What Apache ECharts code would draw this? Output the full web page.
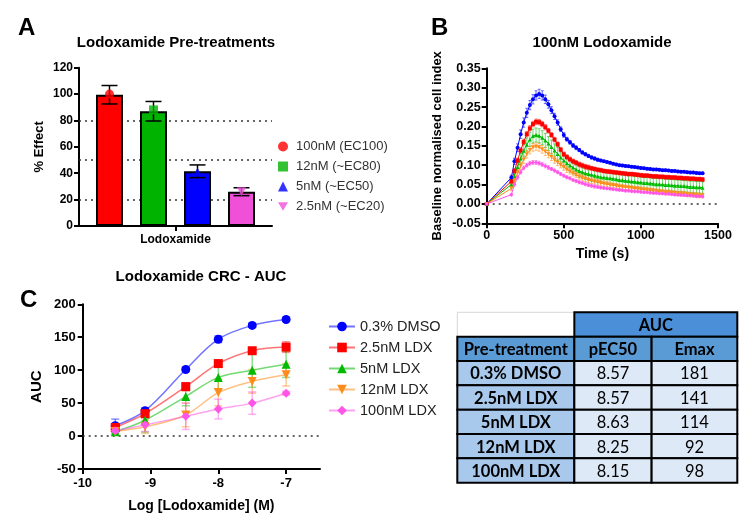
<!DOCTYPE html>
<html><head><meta charset="utf-8">
<script src="https://cdn.jsdelivr.net/npm/echarts@6/dist/echarts.min.js"></script>
<style>html,body{margin:0;padding:0;background:#fff}#c{width:739px;height:517px}</style>
</head><body><div id="c"></div>
<script>
const FONT = '"Liberation Sans", Arial, sans-serif';
const TFONT = 'Lato, "Open Sans", sans-serif';

// ---------- Panel A data ----------
const catA = ['Lodoxamide'];
const preNames = ['100nM (EC100)', '12nM (~EC80)', '5nM (~EC50)', '2.5nM (~EC20)'];
const preMeans = [99.5, 87, 41.5, 26];
const prePoints = [100, 88, 41, 26];
const preErr = [7, 7.4, 4.8, 3];
const refLinesA = [80, 50, 20];

// ---------- Panel B data ----------
const tB = [0,160,180,200,220,240,260,280,300,320,
  340,360,380,400,420,440,460,480,500,520,
  540,560,580,600,620,640,660,680,700,720,
  740,760,780,800,820,840,860,880,900,920,
  940,960,980,1000,1020,1040,1060,1080,1100,1120,
  1140,1160,1180,1200,1220,1240,1260,1280,1300,1320,
  1340,1360,1380,1400];
const bDMSO = [0,.068,.110,.145,.180,.210,.235,.255,.270,.280,
  .284,.280,.270,.257,.242,.226,.210,.193,.178,.167,
  .159,.151,.145,.139,.133,.128,.124,.120,.117,.114,
  .112,.110,.108,.106,.104,.102,.100,.099,.098,.097,
  .096,.095,.094,.093,.092,.091,.090,.089,.089,.088,
  .087,.087,.086,.085,.085,.084,.083,.083,.082,.081,
  .081,.080,.079,.079];
const bL25 = [0,.058,.085,.112,.138,.160,.180,.195,.206,.212,
  .211,.206,.198,.189,.178,.166,.154,.140,.128,.121,
  .115,.110,.106,.102,.099,.096,.094,.092,.090,.088,
  .087,.085,.084,.083,.082,.081,.080,.079,.078,.077,
  .077,.076,.075,.074,.073,.073,.072,.071,.071,.070,
  .070,.069,.069,.068,.068,.067,.067,.066,.066,.065,
  .065,.064,.064,.063];
const bL5 = [0,.050,.072,.095,.117,.137,.153,.166,.175,.178,
  .176,.171,.164,.156,.147,.138,.129,.120,.112,.105,
  .099,.094,.089,.085,.082,.079,.077,.075,.073,.071,
  .069,.068,.067,.066,.065,.064,.062,.061,.060,.059,
  .058,.057,.056,.055,.054,.054,.053,.052,.051,.051,
  .050,.049,.049,.048,.047,.047,.046,.046,.045,.044,
  .044,.043,.043,.042];
const bL12 = [0,.040,.060,.080,.098,.114,.128,.139,.146,.148,
  .146,.141,.135,.128,.121,.114,.107,.101,.095,.089,
  .084,.079,.075,.071,.068,.065,.062,.060,.058,.056,
  .054,.052,.051,.049,.048,.047,.045,.044,.043,.042,
  .041,.040,.039,.038,.037,.036,.035,.034,.033,.032,
  .031,.030,.030,.029,.028,.027,.027,.026,.025,.024,
  .024,.023,.022,.022];
const bL100 = [0,.024,.050,.068,.082,.093,.100,.105,.107,.107,
  .105,.102,.098,.094,.090,.086,.082,.077,.073,.069,
  .066,.062,.059,.056,.054,.051,.049,.047,.045,.044,
  .042,.041,.040,.039,.038,.037,.036,.035,.034,.034,
  .033,.032,.032,.031,.030,.030,.029,.028,.028,.027,
  .027,.026,.026,.025,.024,.024,.023,.023,.022,.022,
  .021,.020,.020,.019];
const eDMSO = [0,.006,.008,.010,.011,.012,.012,.012,.012,.012,
  .012,.012,.011,.010,.009,.008,.007,.006,.006,.005,
  .005,.005,.005,.004,.004,.004,.004,.004,.004,.004,
  .003,.003,.003,.003,.003,.003,.003,.003,.003,.003,
  .003,.003,.003,.003,.003,.003,.003,.003,.003,.003,
  .003,.003,.003,.003,.003,.003,.003,.003,.003,.003,
  .003,.003,.003,.003];
const eL25 = [0,.005,.006,.006,.007,.007,.007,.007,.007,.007,
  .007,.007,.007,.006,.006,.006,.006,.006,.006,.006,
  .006,.006,.006,.006,.006,.006,.006,.005,.005,.005,
  .005,.005,.005,.005,.005,.005,.005,.005,.005,.005,
  .005,.005,.005,.005,.005,.005,.005,.005,.005,.005,
  .005,.005,.005,.005,.005,.005,.005,.005,.005,.005,
  .005,.005,.005,.005];
const eL5 = [0,.008,.010,.012,.014,.016,.017,.018,.018,.018,
  .018,.018,.018,.018,.018,.017,.017,.017,.017,.016,
  .016,.016,.016,.016,.016,.016,.016,.016,.016,.016,
  .015,.015,.015,.015,.015,.015,.015,.015,.015,.015,
  .015,.015,.015,.015,.015,.015,.015,.015,.015,.015,
  .015,.015,.015,.015,.015,.015,.015,.015,.015,.015,
  .015,.015,.015,.015];
const eL12 = [0,.006,.007,.008,.009,.010,.010,.010,.010,.010,
  .010,.010,.010,.009,.009,.009,.008,.008,.008,.008,
  .007,.007,.007,.007,.007,.007,.007,.007,.007,.007,
  .007,.007,.007,.007,.006,.006,.006,.006,.006,.006,
  .006,.006,.006,.006,.006,.006,.006,.006,.006,.006,
  .006,.006,.006,.006,.006,.006,.006,.006,.006,.006,
  .006,.006,.006,.006];
const eL100 = [0,.003,.004,.004,.005,.005,.005,.005,.005,.005,
  .005,.005,.005,.005,.004,.004,.004,.004,.004,.004,
  .004,.004,.004,.004,.004,.004,.004,.004,.004,.004,
  .003,.003,.003,.003,.003,.003,.003,.003,.003,.003,
  .003,.003,.003,.003,.003,.003,.003,.003,.003,.003,
  .003,.003,.003,.003,.003,.003,.003,.003,.003,.003,
  .003,.003,.003,.003];

// ---------- Panel C data ----------
const cNames = ['0.3% DMSO', '2.5nM LDX', '5nM LDX', '12nM LDX', '100nM LDX'];
const cLogConc = [-9.52, -9.08, -8.48, -8.0, -7.5, -7.0];
const cDMSO = [15.7, 38.5, 101, 147, 168, 177];
const cL25 = [13, 34, 75, 110, 129.5, 135];
const cL5 = [6.5, 24, 60, 89, 100, 109];
const cL12 = [7, 14, 32, 66, 83, 93];
const cL100 = [8, 17, 30, 41, 50, 65];
const ceDMSO = [10, 4, 3, 5, 3, 3];
const ceL25 = [4, 5, 6, 5, 4, 8];
const ceL5 = [3, 18, 14, 18, 26, 20];
const ceL12 = [3, 10, 18, 20, 18, 17];
const ceL100 = [2, 10, 20, 15, 17, 3];
const cTicks = [-10, -9, -8, -7];

// ---------- Table data ----------
const tableGroup = 'AUC';
const tableCols = ['Pre-treatment', 'pEC50', 'Emax'];
const treatments = ['0.3% DMSO', '2.5nM LDX', '5nM LDX', '12nM LDX', '100nM LDX'];
const pEC50 = [8.57, 8.57, 8.63, 8.25, 8.15];
const emax = [181, 141, 114, 92, 98];

// ---------- styling ----------
const TRI_DOWN = 'path://M0,0L20,0L10,17Z';
const colA = ['#ff0000', '#00b300', '#0000ff', '#f050d8'];
const symA = ['circle', 'rect', 'triangle', TRI_DOWN];
const colS = ['#0000ff', '#ff0000', '#00bb00', '#ff8c1a', '#ff55e6'];
const symS = ['circle', 'rect', 'triangle', TRI_DOWN, 'diamond'];
const BAR_STEP = 44;

function merge(a, b) {
  const o = Array.isArray(a) ? a.slice() : Object.assign({}, a);
  for (const k in b) {
    if (b[k] && typeof b[k] === 'object' && !Array.isArray(b[k]) && a[k] && typeof a[k] === 'object') o[k] = merge(a[k], b[k]);
    else o[k] = b[k];
  }
  return o;
}
const axBase = {
  axisLine: { show: true, onZero: false, lineStyle: { color: '#000', width: 2 } },
  axisTick: { show: true, length: 5, lineStyle: { color: '#000', width: 2 } },
  axisLabel: { color: '#000', fontWeight: 'bold', fontSize: 12, fontFamily: FONT },
  splitLine: { show: false },
  nameLocation: 'middle',
  nameTextStyle: { color: '#000', fontWeight: 'bold', fontSize: 14, fontFamily: FONT }
};
const ax = (x) => merge(axBase, x);

function errRender(color, cap, width, opacity) {
  return function (params, api) {
    const x = api.value(0), y = api.value(1), e = api.value(2);
    if (!e) return null;
    const p1 = api.coord([x, y + e]), p2 = api.coord([x, y - e]);
    const st = { stroke: color, lineWidth: width, opacity: opacity };
    return { type: 'group', children: [
      { type: 'line', shape: { x1: p1[0], y1: p1[1], x2: p2[0], y2: p2[1] }, style: st },
      { type: 'line', shape: { x1: p1[0] - cap, y1: p1[1], x2: p1[0] + cap, y2: p1[1] }, style: st },
      { type: 'line', shape: { x1: p2[0] - cap, y1: p2[1], x2: p2[0] + cap, y2: p2[1] }, style: st }
    ] };
  };
}
const dotted = { type: [2, 4], color: '#333', width: 1.5 };
function refSeries(xi, yi, vals) {
  return { type: 'line', xAxisIndex: xi, yAxisIndex: yi, data: [], z: 1, silent: true,
    markLine: { silent: true, z: 1, symbol: 'none', label: { show: false }, lineStyle: dotted,
      data: vals.map(v => ({ yAxis: v })) } };
}

const series = [];
// Panel A
series.push(refSeries(0, 0, refLinesA));
preMeans.forEach((m, i) => series.push({
  type: 'bar', name: 'barA' + i, xAxisIndex: 0, yAxisIndex: 0, data: [m], z: 2,
  barWidth: 27, barGap: '63%',
  itemStyle: { color: colA[i], borderColor: '#000', borderWidth: 2 }
}));
series.push({
  type: 'custom', xAxisIndex: 0, yAxisIndex: 0, z: 3, silent: true,
  data: preMeans.map((m, i) => [0, m, preErr[i], i]),
  encode: { x: 0, y: 1 },
  renderItem: function (params, api) {
    const i = api.value(3), m = api.value(1), e = api.value(2);
    const off = (i - 1.5) * BAR_STEP;
    const p1 = api.coord([0, m + e]), p2 = api.coord([0, m - e]);
    const x = p1[0] + off, cap = 8;
    const st = { stroke: '#000', lineWidth: 1.5 };
    return { type: 'group', children: [
      { type: 'line', shape: { x1: x, y1: p1[1], x2: x, y2: p2[1] }, style: st },
      { type: 'line', shape: { x1: x - cap, y1: p1[1], x2: x + cap, y2: p1[1] }, style: st },
      { type: 'line', shape: { x1: x - cap, y1: p2[1], x2: x + cap, y2: p2[1] }, style: st }
    ] };
  }
});
prePoints.forEach((p, i) => series.push({
  type: 'scatter', name: preNames[i], xAxisIndex: 0, yAxisIndex: 0, z: 4,
  data: [[0, p]], symbol: symA[i], symbolSize: 9,
  symbolOffset: [(i - 1.5) * BAR_STEP, 0],
  itemStyle: { color: colA[i] }
}));

// Panel B
series.push(refSeries(1, 1, [0]));
const bVals = [bDMSO, bL25, bL5, bL12, bL100];
const bErrs = [eDMSO, eL25, eL5, eL12, eL100];
bVals.forEach((vals, i) => {
  series.push({
    type: 'custom', xAxisIndex: 1, yAxisIndex: 1, z: 2, silent: true,
    data: tB.map((t, k) => [t, vals[k], bErrs[i][k]]), encode: { x: 0, y: 1 },
    renderItem: errRender(colS[i], 1.5, 0.8, 0.7)
  });
  series.push({
    type: 'line', name: 'B ' + cNames[i], xAxisIndex: 1, yAxisIndex: 1, z: 3,
    data: tB.map((t, k) => [t, vals[k]]),
    symbol: symS[i], symbolSize: 4, showSymbol: true,
    lineStyle: { color: colS[i], width: 1 }, itemStyle: { color: colS[i] }
  });
});

// Panel C
series.push(refSeries(2, 2, [0]));
const cVals = [cDMSO, cL25, cL5, cL12, cL100];
const cErrs = [ceDMSO, ceL25, ceL5, ceL12, ceL100];
cVals.forEach((vals, i) => {
  series.push({
    type: 'custom', xAxisIndex: 2, yAxisIndex: 2, z: 2, silent: true,
    data: cLogConc.map((x, k) => [x, vals[k], cErrs[i][k]]), encode: { x: 0, y: 1 },
    renderItem: errRender(colS[i], 4, 1.5, 0.45)
  });
  series.push({
    type: 'line', name: cNames[i], xAxisIndex: 2, yAxisIndex: 2, z: 3,
    data: cLogConc.map((x, k) => [x, vals[k]]), smooth: 0.35,
    symbol: symS[i], symbolSize: 9, showSymbol: true,
    lineStyle: { color: colS[i], width: 1.5, opacity: 0.55 }, itemStyle: { color: colS[i] }
  });
});

// Table
const colEdges = [0, 0.418, 0.694, 1];
const cells = [];
cells.push({ row: 0, c0: 0, c1: 1, text: '', kind: 'blank' });
cells.push({ row: 0, c0: 1, c1: 3, text: tableGroup, kind: 'group' });
tableCols.forEach((h, j) => cells.push({ row: 1, c0: j, c1: j + 1, text: h, kind: 'head' }));
treatments.forEach((t, r) => {
  cells.push({ row: r + 2, c0: 0, c1: 1, text: t, kind: 'first' });
  cells.push({ row: r + 2, c0: 1, c1: 2, text: pEC50[r].toFixed(2), kind: 'cell' });
  cells.push({ row: r + 2, c0: 2, c1: 3, text: String(emax[r]), kind: 'cell' });
});
const cellStyle = {
  blank: { fill: '#ffffff', stroke: '#d6d6d6', lw: 1, bold: false },
  group: { fill: '#4a8fd8', stroke: '#000', lw: 2, bold: true },
  head: { fill: '#5b9bd5', stroke: '#000', lw: 2, bold: true },
  first: { fill: '#a9c9ec', stroke: '#000', lw: 2, bold: true },
  cell: { fill: '#dde9f6', stroke: '#000', lw: 2, bold: false }
};
series.push({
  type: 'custom', xAxisIndex: 3, yAxisIndex: 3, silent: true, z: 2,
  data: cells.map((c, i) => [colEdges[c.c0], c.row, i]),
  encode: { x: 0, y: 1 },
  renderItem: function (params, api) {
    const c = cells[params.dataIndex];
    const s = cellStyle[c.kind];
    const a = api.coord([colEdges[c.c0], c.row]);
    const b = api.coord([colEdges[c.c1], c.row]);
    const h = api.size([0, 1])[1];
    const x0 = a[0], x1 = b[0], y0 = a[1] - h / 2;
    return { type: 'group', children: [
      { type: 'rect', shape: { x: x0, y: y0, width: x1 - x0, height: h }, style: { fill: s.fill, stroke: s.stroke, lineWidth: s.lw } },
      { type: 'text', style: { text: c.text, x: (x0 + x1) / 2, y: a[1] + 1, align: 'center', verticalAlign: 'middle',
        fontSize: 16.5, fontWeight: s.bold ? 'bold' : 'normal', fontFamily: TFONT, fill: '#000' } }
    ] };
  }
});

const tt = (text, left, top, size, align) => ({ text, left, top, padding: 0, textAlign: align || 'left',
  textStyle: { fontFamily: FONT, fontWeight: 'bold', fontSize: size, color: '#000' } });

const option = {
  animation: false,
  backgroundColor: '#fff',
  title: [
    tt('A', 18, 16, 24), tt('Lodoxamide Pre-treatments', 176, 35, 15, 'center'),
    tt('B', 431, 16, 24), tt('100nM Lodoxamide', 602, 35, 15, 'center'),
    tt('C', 20, 288, 24), tt('Lodoxamide CRC - AUC', 201, 269, 15, 'center')
  ],
  legend: [
    { data: preNames, orient: 'vertical', left: 278, top: 140, itemWidth: 10, itemHeight: 10, itemGap: 7,
      padding: 0, textStyle: { fontFamily: FONT, fontSize: 13, color: '#333', padding: [0, 0, 0, 3] } },
    { data: cNames, orient: 'vertical', left: 328, top: 319, itemWidth: 26, itemHeight: 12, itemGap: 6,
      padding: 0, textStyle: { fontFamily: FONT, fontSize: 14.5, color: '#222' } }
  ],
  grid: [
    { left: 79, top: 67.7, width: 193, height: 158.3, containLabel: false, outerBoundsMode: 'none' },
    { left: 486.7, top: 68.3, width: 231.3, height: 155, containLabel: false, outerBoundsMode: 'none' },
    { left: 82.7, top: 304.3, width: 237.3, height: 164.7, containLabel: false, outerBoundsMode: 'none' },
    { left: 457.3, top: 312.3, width: 280, height: 170.4, containLabel: false, outerBoundsMode: 'none' }
  ],
  xAxis: [
    ax({ gridIndex: 0, type: 'category', data: catA, axisTick: { alignWithLabel: true, interval: 0 },
      axisLabel: { fontSize: 12, margin: 8 } }),
    ax({ gridIndex: 1, type: 'value', min: 0, max: 1500, interval: 500, name: 'Time (s)', nameGap: 24,
      axisLabel: { fontSize: 12.5, margin: 6, formatter: v => String(v) } }),
    ax({ gridIndex: 2, type: 'value', min: -10, max: -6.5, interval: 1, name: 'Log [Lodoxamide] (M)', nameGap: 30,
      axisTick: { customValues: cTicks }, axisLabel: { customValues: cTicks, fontSize: 13, margin: 8 } }),
    { gridIndex: 3, type: 'value', min: 0, max: 1, show: false }
  ],
  yAxis: [
    ax({ gridIndex: 0, type: 'value', min: 0, max: 120, interval: 20, name: '% Effect', nameGap: 33,
      nameTextStyle: { fontSize: 13 }, axisLabel: { margin: 6 } }),
    ax({ gridIndex: 1, type: 'value', min: -0.05, max: 0.35, interval: 0.05, name: 'Baseline normalised cell index',
      nameGap: 43, nameTextStyle: { fontSize: 13 }, axisLabel: { fontSize: 12.5, margin: 6, formatter: v => v.toFixed(2) } }),
    ax({ gridIndex: 2, type: 'value', min: -50, max: 200, interval: 50, name: 'AUC', nameGap: 38,
      nameTextStyle: { fontSize: 15 }, axisLabel: { fontSize: 13, margin: 7 } }),
    { gridIndex: 3, type: 'category', inverse: true, data: ['r0', 'r1', 'r2', 'r3', 'r4', 'r5', 'r6'], show: false }
  ],
  series: series
};
const chart = echarts.init(document.getElementById('c'));
chart.setOption(option);
</script>
</body></html>
